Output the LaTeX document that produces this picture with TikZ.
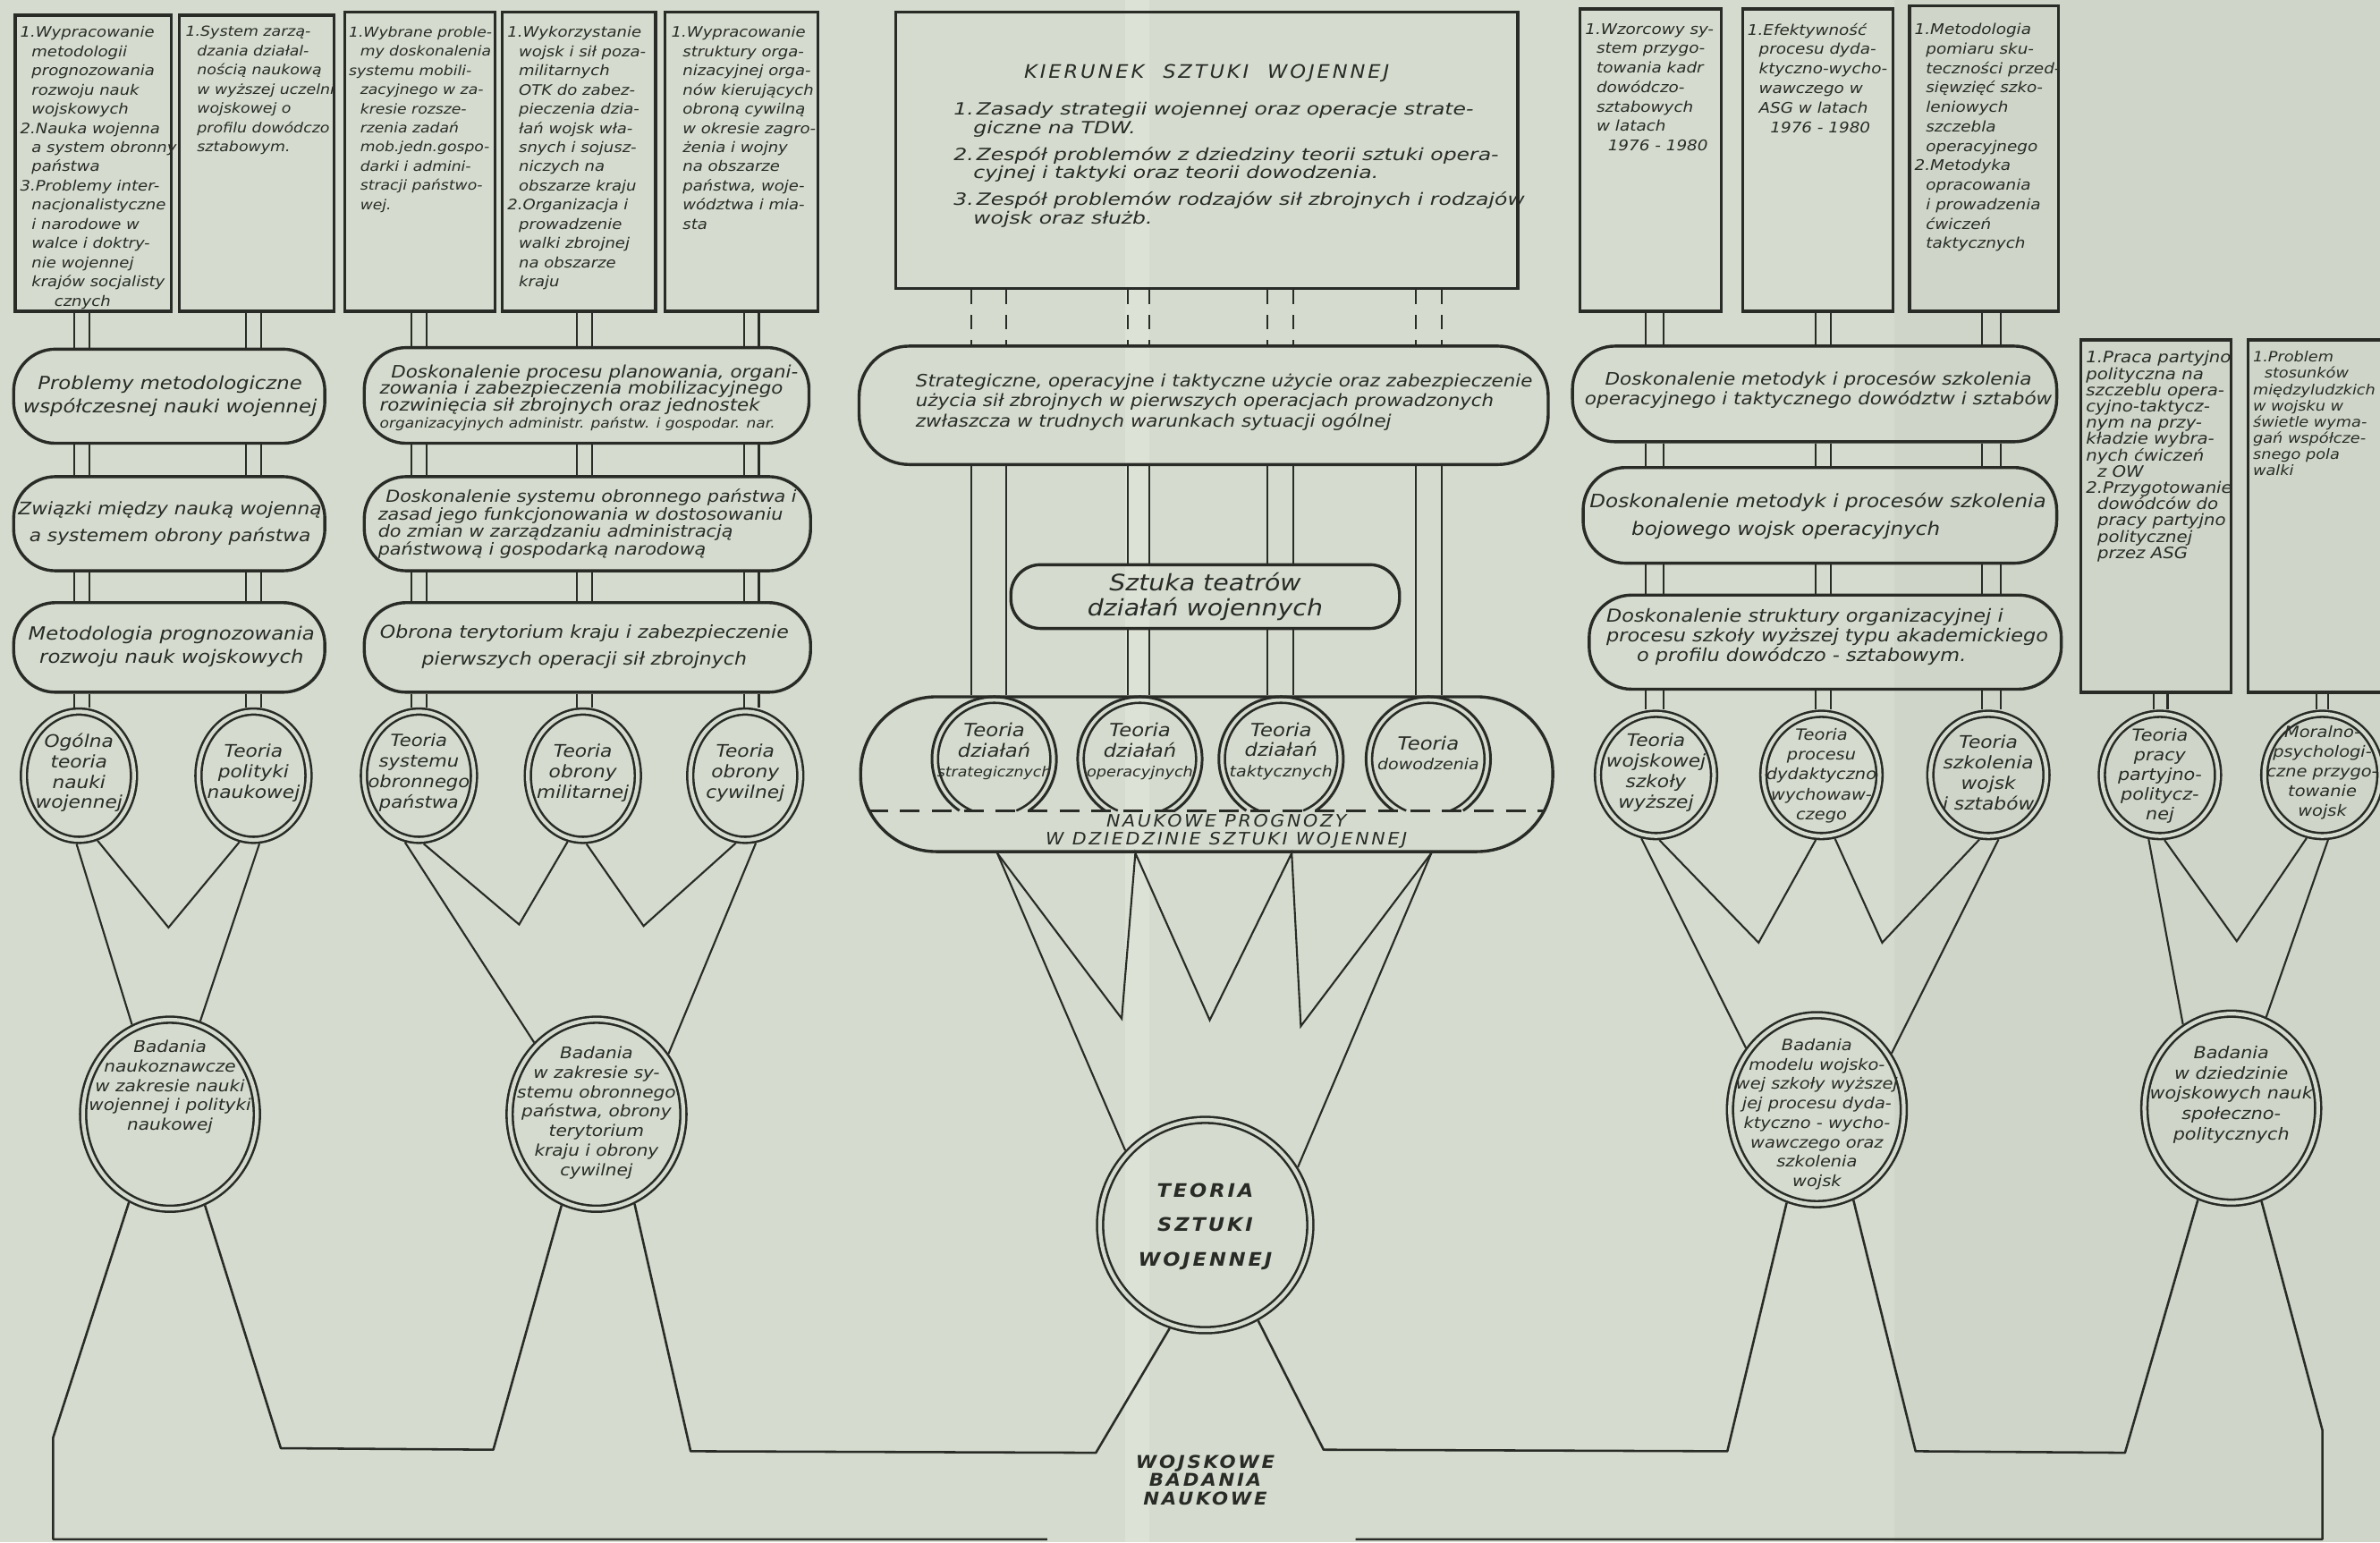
\documentclass[tikz,border=0pt]{standalone}
\usepackage{fontspec}
\setmainfont{DejaVu Sans}[FakeStretch=1.12]
\newfontfamily\capsfont{DejaVu Sans}[LetterSpace=14,FakeStretch=1.08]
\newfontfamily\widefont{DejaVu Sans}[FakeStretch=1.25]
\usetikzlibrary{shapes.geometric,fit,calc}
\definecolor{paper}{RGB}{213,219,206}
\definecolor{paperlight}{RGB}{221,226,214}
\definecolor{paperdark}{RGB}{207,213,200}
\definecolor{ink}{RGB}{40,43,38}
\newcommand{\hwf}[2]{\fontsize{#1}{#2}\selectfont\itshape}
\newcommand{\ind}{\hspace*{1.5mm}}
\begin{document}
\begin{tikzpicture}[x=0.2mm,y=-0.2mm,
  box/.style={rectangle,draw=ink,line width=0.4mm,inner sep=0},
  stad/.style={rectangle,draw=ink,line width=0.4mm,inner sep=0,rounded corners=#1},
  ring/.style={ellipse,draw=ink,line width=0.3mm,double=paper,double distance=0.5mm,inner sep=0,outer sep=0.55mm},
  txt/.style={text=ink,inner sep=0,align=center},
  ltxt/.style={text=ink,inner sep=0,align=left},
  conn/.style={draw=ink,line width=0.25mm},
  dconn/.style={draw=ink,line width=0.25mm,dash pattern=on 1.9mm off 1.4mm},
  gline/.style={draw=ink,line width=0.3mm,line join=round}]
\fill[paper] (0,0) rectangle (1568,1016);
\fill[paperdark] (1248,0) rectangle (1568,1016);
\fill[paperlight] (741,0) rectangle (757,1016);
\useasboundingbox (0,0) rectangle (1568,1016);

% ---------- top boxes ----------
\node[box,fit={(10,10)(113,205)}] (b1) {};
\node[box,fit={(118,10)(220,205)}] (b2) {};
\node[box,fit={(227,8)(326,205)}] (b3) {};
\node[box,fit={(331,8)(432,205)}] (b4) {};
\node[box,fit={(438,8)(539,205)}] (b5) {};
\node[box,fit={(590,8)(1000,190)}] (k) {};
\node[box,fit={(1041,6)(1134,205)}] (r1) {};
\node[box,fit={(1148,6)(1247,205)}] (r2) {};
\node[box,fit={(1258,4)(1356,205)}] (r3) {};
\node[box,fit={(1371,224)(1470,456)}] (ra) {};
\node[box,fit={(1481,224)(1620,456)}] (rb) {};

\node[ltxt,anchor=north west,font=\hwf{5.4}{7.2}] (b1t) at (13,17) {1.Wypracowanie\\ \ind metodologii\\ \ind prognozowania\\ \ind rozwoju nauk\\ \ind wojskowych\\ 2.Nauka wojenna\\ \ind a system obronny\\ \ind państwa\\ 3.Problemy inter-\\ \ind nacjonalistyczne\\ \ind i narodowe w\\ \ind walce i doktry-\\ \ind nie wojennej\\ \ind krajów socjalisty\\ \ind\ind\ind cznych};
\node[ltxt,anchor=north west,font=\hwf{5.2}{7.2}] (b2t) at (122,17) {1.System zarzą-\\ \ind dzania działal-\\ \ind nością naukową\\ \ind w wyższej uczelni\\ \ind wojskowej o\\ \ind profilu dowódczo\\ \ind sztabowym.};
\node[ltxt,anchor=north west,font=\hwf{5.15}{7.2}] (b3t) at (229.5,17) {1.Wybrane proble-\\ \ind my doskonalenia\\ systemu mobili-\\ \ind zacyjnego w za-\\ \ind kresie rozsze-\\ \ind rzenia zadań\\ \ind mob.jedn.gospo-\\ \ind darki i admini-\\ \ind stracji państwo-\\ \ind wej.};
\node[ltxt,anchor=north west,font=\hwf{5.4}{7.2}] (b4t) at (334,17) {1.Wykorzystanie\\ \ind wojsk i sił poza-\\ \ind militarnych\\ \ind OTK do zabez-\\ \ind pieczenia dzia-\\ \ind łań wojsk wła-\\ \ind snych i sojusz-\\ \ind niczych na\\ \ind obszarze kraju\\ 2.Organizacja i\\ \ind prowadzenie\\ \ind walki zbrojnej\\ \ind na obszarze\\ \ind kraju};
\node[ltxt,anchor=north west,font=\hwf{5.4}{7.2}] (b5t) at (442,17) {1.Wypracowanie\\ \ind struktury orga-\\ \ind nizacyjnej orga-\\ \ind nów kierujących\\ \ind obroną cywilną\\ \ind w okresie zagro-\\ \ind żenia i wojny\\ \ind na obszarze\\ \ind państwa, woje-\\ \ind wództwa i mia-\\ \ind sta};

\node[txt,font=\capsfont\hwf{7}{8}] (kt) at (795,48) {KIERUNEK\quad SZTUKI\quad WOJENNEJ};
\node[ltxt,anchor=north west,font=\widefont\hwf{6.3}{6.9}] (ki) at (628,67) {1.\,Zasady strategii wojennej oraz operacje strate-\\ \hspace*{2.6mm}giczne na TDW.\\[1.1mm] 2.\,Zespół problemów z dziedziny teorii sztuki opera-\\ \hspace*{2.6mm}cyjnej i taktyki oraz teorii dowodzenia.\\[1.1mm] 3.\,Zespół problemów rodzajów sił zbrojnych i rodzajów\\ \hspace*{2.6mm}wojsk oraz służb.};

\node[ltxt,anchor=north west,font=\hwf{5.5}{7.3}] (r1t) at (1044,15) {1.Wzorcowy sy-\\ \ind stem przygo-\\ \ind towania kadr\\ \ind dowódczo-\\ \ind sztabowych\\ \ind w latach\\ \ind\ind 1976 - 1980};
\node[ltxt,anchor=north west,font=\hwf{5.5}{7.3}] (r2t) at (1151,15) {1.Efektywność\\ \ind procesu dyda-\\ \ind ktyczno-wycho-\\ \ind wawczego w\\ \ind ASG w latach\\ \ind\ind 1976 - 1980};
\node[ltxt,anchor=north west,font=\hwf{5.5}{7.3}] (r3t) at (1261,15) {1.Metodologia\\ \ind pomiaru sku-\\ \ind teczności przed-\\ \ind sięwzięć szko-\\ \ind leniowych\\ \ind szczebla\\ \ind operacyjnego\\ 2.Metodyka\\ \ind opracowania\\ \ind i prowadzenia\\ \ind ćwiczeń\\ \ind taktycznych};
\node[ltxt,anchor=north west,font=\hwf{5.9}{6.1}] (rat) at (1374,231) {1.Praca partyjno\\ polityczna na\\ szczeblu opera-\\ cyjno-taktycz-\\ nym na przy-\\ kładzie wybra-\\ nych ćwiczeń\\ \ind z OW\\ 2.Przygotowanie\\ \ind dowódców do\\ \ind pracy partyjno\\ \ind politycznej\\ \ind przez ASG};
\node[ltxt,anchor=north west,font=\hwf{5.3}{6.1}] (rbt) at (1484,231) {1.Problem\\ \ind stosunków\\ międzyludzkich\\ w wojsku w\\ świetle wyma-\\ gań współcze-\\ snego pola\\ walki};

% ---------- stadiums ----------
\node[stad=5.5mm,fit={(9,230)(214,292)}] (s1) {};
\node[stad=5.5mm,fit={(9,314)(214,376)}] (s2) {};
\node[stad=5.5mm,fit={(9,397)(214,456)}] (s3) {};
\node[stad=5.5mm,fit={(240,229)(533,292)}] (s4) {};
\node[stad=5.5mm,fit={(240,314)(534,376)}] (s5) {};
\node[stad=5.5mm,fit={(240,397)(534,456)}] (s6) {};
\node[stad=6.6mm,fit={(566,228)(1020,306)}] (st) {};
\node[stad=3.9mm,fit={(666,372)(922,414)}] (sz) {};
\node[stad=10mm,fit={(567,459)(1023,561)}] (p) {};
\node[stad=5.6mm,fit={(1036,228)(1355,291)}] (rs1) {};
\node[stad=5.6mm,fit={(1043,308)(1355,371)}] (rs2) {};
\node[stad=5.6mm,fit={(1047,392)(1358,454)}] (rs3) {};

\node[txt,font=\hwf{6.8}{8.9}] (s1t) at (112,261) {Problemy metodologiczne\\współczesnej nauki wojennej};
\node[txt,font=\hwf{6.5}{10}] (s2t) at (112,345) {Związki między nauką wojenną\\a systemem obrony państwa};
\node[txt,font=\hwf{6.8}{8.6}] (s3t) at (113,426) {Metodologia prognozowania\\rozwoju nauk wojskowych};
\node[ltxt,font=\hwf{6.4}{6.3}] (s4t) at (388,262) {\hspace*{1.5mm}Doskonalenie procesu planowania, organi-\\zowania i zabezpieczenia mobilizacyjnego\\rozwinięcia sił zbrojnych oraz jednostek\\{\fontsize{5.1}{6.3}\selectfont organizacyjnych administr. państw. i gospodar. nar.}};
\node[ltxt,font=\hwf{6.2}{6.5}] (s5t) at (387,345) {\hspace*{1mm}Doskonalenie systemu obronnego państwa i\\zasad jego funkcjonowania w dostosowaniu\\do zmian w zarządzaniu administracją\\państwową i gospodarką narodową};
\node[txt,font=\hwf{6.6}{10}] (s6t) at (385,426) {Obrona terytorium kraju i zabezpieczenie\\pierwszych operacji sił zbrojnych};
\node[ltxt,anchor=west,font=\hwf{6.4}{7.5}] (stt) at (603,265) {Strategiczne, operacyjne i taktyczne użycie oraz zabezpieczenie\\użycia sił zbrojnych w pierwszych operacjach prowadzonych\\zwłaszcza w trudnych warunkach sytuacji ogólnej};
\node[txt,font=\hwf{8.5}{9.5}] (szt) at (794,393) {Sztuka teatrów\\działań wojennych};
\node[txt,font=\capsfont\hwf{6.4}{6.8}] (pt) at (808,547.5) {NAUKOWE PROGNOZY\\W DZIEDZINIE SZTUKI WOJENNEJ};
\node[txt,font=\hwf{6.45}{7.4}] (rs1t) at (1198,257) {Doskonalenie metodyk i procesów szkolenia\\operacyjnego i taktycznego dowództw i sztabów};
\node[ltxt,anchor=west,font=\hwf{6.9}{10.5}] (rs2t) at (1047,340) {Doskonalenie metodyk i procesów szkolenia\\\hspace*{5.5mm}bojowego wojsk operacyjnych};
\node[ltxt,anchor=west,font=\hwf{6.7}{7.4}] (rs3t) at (1058,419.5) {Doskonalenie struktury organizacyjnej i\\procesu szkoły wyższej typu akademickiego\\\hspace*{4mm}o profilu dowódczo - sztabowym.};

% dashed line and theory horseshoes inside the forecast stadium
\draw[ink,line width=0.4mm,dash pattern=on 2.6mm off 1.6mm] ($(p.west)+(6,24)$) -- ($(p.east)+(-6,24)$);
\foreach \cx in {655,751,844,941}{
  \draw[ink,line width=0.35mm] (\cx,500) ++(124:41) arc[start angle=124,end angle=416,radius=41];
  \draw[ink,line width=0.3mm] (\cx,500) ++(113.2:37) arc[start angle=113.2,end angle=426.8,radius=37];
}
\node[txt,font=\hwf{6.8}{7.5}] (pc1) at (655,495) {Teoria\\działań\\{\fontsize{5.2}{7.5}\selectfont strategicznych}};
\node[txt,font=\hwf{6.8}{7.5}] (pc2) at (751,495) {Teoria\\działań\\{\fontsize{5.3}{7.5}\selectfont operacyjnych}};
\node[txt,font=\hwf{6.8}{7.5}] (pc3) at (844,495) {Teoria\\działań\\{\fontsize{5.7}{7.5}\selectfont taktycznych}};
\node[txt,font=\hwf{6.8}{7.5}] (pc4) at (941,496) {Teoria\\{\fontsize{5.7}{7.5}\selectfont dowodzenia}};

% ---------- theory circles ----------
\node[ring,minimum width=14.5mm,minimum height=16.9mm] (c1) at (52,511) {};
\node[ring,minimum width=14.5mm,minimum height=16.9mm] (c2) at (167,511) {};
\node[ring,minimum width=14.5mm,minimum height=16.9mm] (c3) at (276,511) {};
\node[ring,minimum width=14.5mm,minimum height=16.9mm] (c4) at (384,511) {};
\node[ring,minimum width=14.5mm,minimum height=16.9mm] (c5) at (491,511) {};
\node[ring,minimum width=15.3mm,minimum height=16.1mm] (c6) at (1091,510.5) {};
\node[ring,minimum width=15.3mm,minimum height=16.1mm] (c7) at (1200,510.5) {};
\node[ring,minimum width=15.3mm,minimum height=16.1mm] (c8) at (1310,510.5) {};
\node[ring,minimum width=15.3mm,minimum height=16.1mm] (c9) at (1423,510.5) {};
\node[ring,minimum width=15.3mm,minimum height=16.1mm] (c10) at (1530,510.5) {};

\node[txt,font=\hwf{6.5}{7.7}] (c1t) at (52,509) {Ogólna\\teoria\\nauki\\wojennej};
\node[txt,font=\hwf{6.5}{7.7}] (c2t) at (167,509) {Teoria\\polityki\\naukowej};
\node[txt,font=\hwf{6.3}{7.7}] (c3t) at (276,509) {Teoria\\systemu\\obronnego\\państwa};
\node[txt,font=\hwf{6.5}{7.7}] (c4t) at (384,509) {Teoria\\obrony\\militarnej};
\node[txt,font=\hwf{6.5}{7.7}] (c5t) at (491,509) {Teoria\\obrony\\cywilnej};
\node[txt,font=\hwf{6.5}{7.7}] (c6t) at (1091,509) {Teoria\\wojskowej\\szkoły\\wyższej};
\node[txt,font=\hwf{5.8}{7.4}] (c7t) at (1200,511) {Teoria\\procesu\\dydaktyczno\\wychowaw-\\czego};
\node[txt,font=\hwf{6.5}{7.7}] (c8t) at (1310,509) {Teoria\\szkolenia\\wojsk\\i sztabów};
\node[txt,font=\hwf{6.2}{7.4}] (c9t) at (1423,511) {Teoria\\pracy\\partyjno-\\politycz-\\nej};
\node[txt,font=\hwf{5.8}{7.4}] (c10t) at (1530,509) {Moralno-\\psychologi-\\czne przygo-\\towanie\\wojsk};

% ---------- research circles ----------
\node[ring,minimum width=22.9mm,minimum height=24.9mm] (B1) at (112,734) {};
\node[ring,minimum width=22.9mm,minimum height=24.9mm] (B2) at (393,734) {};
\node[ring,minimum width=27.7mm,minimum height=27.7mm] (TSW) at (794,807) {};
\node[ring,minimum width=22.9mm,minimum height=24.9mm] (BM) at (1197,731) {};
\node[ring,minimum width=22.9mm,minimum height=24.9mm] (BD) at (1470,730) {};

\node[txt,font=\hwf{6}{7.3}] (B1t) at (112,716) {Badania\\naukoznawcze\\w zakresie nauki\\wojennej i polityki\\naukowej};
\node[txt,font=\hwf{6}{7.3}] (B2t) at (393,733) {Badania\\w zakresie sy-\\stemu obronnego\\państwa, obrony\\terytorium\\kraju i obrony\\cywilnej};
\node[txt,font=\capsfont\bfseries\hwf{7}{12.9}] (TSWt) at (794,808) {TEORIA\\SZTUKI\\WOJENNEJ};
\node[txt,font=\hwf{5.8}{7.3}] (BMt) at (1197,734) {Badania\\modelu wojsko-\\wej szkoły wyższej\\jej procesu dyda-\\ktyczno - wycho-\\wawczego oraz\\szkolenia\\wojsk};
\node[txt,font=\hwf{6.2}{7.6}] (BDt) at (1470,721) {Badania\\w dziedzinie\\wojskowych nauk\\społeczno-\\politycznych};
\node[txt,font=\capsfont\bfseries\hwf{6.6}{6.9}] (wbn) at (794,975) {WOJSKOWE\\BADANIA\\NAUKOWE};

% ---------- free points ----------
\coordinate (v1) at (111,611);
\coordinate (v2) at (342,609);
\coordinate (v3) at (424,610);
\coordinate (w1) at (739,671);
\coordinate (w2) at (797,672);
\coordinate (w3) at (857,676);
\coordinate (v4) at (1158.6,621);
\coordinate (v5) at (1240,621);
\coordinate (v6) at (1473.6,620);
\coordinate (g1) at (35,947);
\coordinate (g2) at (35,1014);
\coordinate (g3) at (690,1014);
\coordinate (g4) at (185,954);
\coordinate (g5) at (325,955);
\coordinate (g6) at (455,956);
\coordinate (g7) at (722,957);
\coordinate (g8) at (872,955);
\coordinate (g9) at (1138,956);
\coordinate (g10) at (1262,956);
\coordinate (g11) at (1400,957);
\coordinate (g12) at (1530,942);
\coordinate (g13) at (1530,1014);
\coordinate (g14) at (893,1014);

% ---------- double vertical connectors ----------
\foreach \x in {49,59} \draw[conn] (b1.south -| \x,0) -- (s1.north -| \x,0);
\foreach \x in {162,172} \draw[conn] (b2.south -| \x,0) -- (s1.north -| \x,0);
\foreach \x in {49,59,162,172} {\draw[conn] (s1.south -| \x,0) -- (s2.north -| \x,0);
  \draw[conn] (s2.south -| \x,0) -- (s3.north -| \x,0);}
\foreach \x in {49,59} \draw[conn] (s3.south -| \x,0) -- (c1.north -| \x,0);
\foreach \x in {162,172} \draw[conn] (s3.south -| \x,0) -- (c2.north -| \x,0);
\foreach \x in {271,281} \draw[conn] (b3.south -| \x,0) -- (s4.north -| \x,0);
\foreach \x in {380,390} \draw[conn] (b4.south -| \x,0) -- (s4.north -| \x,0);
\foreach \x in {490,500} \draw[conn] (b5.south -| \x,0) -- (s4.north -| \x,0);
\foreach \x in {271,281,380,390,490,500} {\draw[conn] (s4.south -| \x,0) -- (s5.north -| \x,0);
  \draw[conn] (s5.south -| \x,0) -- (s6.north -| \x,0);}
\foreach \x in {271,281} \draw[conn] (s6.south -| \x,0) -- (c3.north -| \x,0);
\foreach \x in {380,390} \draw[conn] (s6.south -| \x,0) -- (c4.north -| \x,0);
\foreach \x in {490,500} \draw[conn] (s6.south -| \x,0) -- (c5.north -| \x,0);

\foreach \x in {640,663,743,757,835,852,933,950} \draw[dconn] (k.south -| \x,0) -- (st.north -| \x,0);
\foreach \x in {640,663,933,950} \draw[conn] (st.south -| \x,0) -- (p.north -| \x,0);
\foreach \x in {743,757,835,852} {\draw[conn] (st.south -| \x,0) -- (sz.north -| \x,0);
  \draw[conn] (sz.south -| \x,0) -- (p.north -| \x,0);}

\foreach \x in {1084,1096} \draw[conn] (r1.south -| \x,0) -- (rs1.north -| \x,0);
\foreach \x in {1196,1206} \draw[conn] (r2.south -| \x,0) -- (rs1.north -| \x,0);
\foreach \x in {1306,1318} \draw[conn] (r3.south -| \x,0) -- (rs1.north -| \x,0);
\foreach \x in {1084,1096,1196,1206,1306,1318} {\draw[conn] (rs1.south -| \x,0) -- (rs2.north -| \x,0);
  \draw[conn] (rs2.south -| \x,0) -- (rs3.north -| \x,0);}
\foreach \x in {1084,1096} \draw[conn] (rs3.south -| \x,0) -- (c6.north -| \x,0);
\foreach \x in {1196,1206} \draw[conn] (rs3.south -| \x,0) -- (c7.north -| \x,0);
\foreach \x in {1306,1318} \draw[conn] (rs3.south -| \x,0) -- (c8.north -| \x,0);
\foreach \x in {1419,1428} \draw[conn] (ra.south -| \x,0) -- (c9.north -| \x,0);
\foreach \x in {1526,1534} \draw[conn] (rb.south -| \x,0) -- (c10.north -| \x,0);

% ---------- slanted connectors ----------
\draw[conn] (c1.268) -- (B1.113);
\draw[conn] (c1.286) -- (v1) -- (c2.258);
\draw[conn] (c2.275) -- (B1.72);
\draw[conn] (c3.258) -- (B2.131);
\draw[conn] (c3.274) -- (v2) -- (c4.257);
\draw[conn] (c4.273) -- (v3) -- (c5.262);
\draw[conn] (c5.279) -- (B2.40);
\draw[conn] (p.south -| 657,0) -- (w1) -- (p.south -| 748,0) -- (w2) -- (p.south -| 851,0) -- (w3) -- (p.south -| 943,0);
\draw[conn] (p.south -| 657,0) -- (TSW.137);
\draw[conn] (p.south -| 943,0) -- (TSW.32);
\draw[conn] (c6.257) -- (BM.139);
\draw[conn] (c6.273) -- (v4) -- (c7.265);
\draw[conn] (c7.282) -- (v5) -- (c8.262);
\draw[conn] (c8.279) -- (BM.37);
\draw[conn] (c9.260) -- (BD.120);
\draw[conn] (c9.274) -- (v6) -- (c10.256);
\draw[conn] (c10.275) -- (BD.69);

% ---------- ground ----------
\draw[gline] (B1.245) -- (g1) -- (g2) -- (g3);
\draw[gline] (B1.291) -- (g4) -- (g5) -- (B2.249);
\draw[gline] (B2.293) -- (g6) -- (g7) -- (TSW.251);
\draw[gline] (TSW.299) -- (g8) -- (g9) -- (BM.252);
\draw[gline] (BM.292) -- (g10) -- (g11) -- (BD.250);
\draw[gline] (BD.288) -- (g12) -- (g13) -- (g14);
\end{tikzpicture}
\end{document}
